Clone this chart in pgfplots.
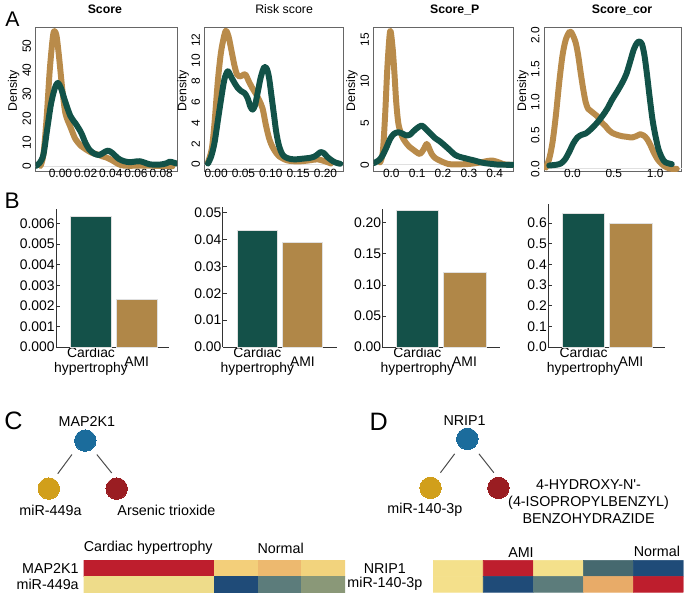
\documentclass[border=0pt]{standalone}
\usepackage{pgfplots}
\pgfplotsset{compat=1.18}
\usepackage{fontspec}
\setmainfont{Liberation Sans}

\definecolor{lgold}{RGB}{185,139,74}
\definecolor{lgreen}{RGB}{18,82,72}
\definecolor{bgold}{RGB}{176,135,72}
\definecolor{bgreen}{RGB}{20,81,73}
\definecolor{hred}{RGB}{190,30,45}
\definecolor{hpale}{RGB}{238,220,138}
\definecolor{hpaleb}{RGB}{244,224,139}
\definecolor{hor1}{RGB}{243,207,122}
\definecolor{hor2}{RGB}{237,185,111}
\definecolor{hor3}{RGB}{242,211,125}
\definecolor{hblue}{RGB}{31,75,120}
\definecolor{hteal}{RGB}{92,124,123}
\definecolor{holive}{RGB}{138,152,120}
\definecolor{hslate}{RGB}{70,105,111}
\definecolor{horange}{RGB}{232,171,104}
\definecolor{nblue}{RGB}{27,108,156}
\definecolor{ngold}{RGB}{209,159,27}
\definecolor{nred}{RGB}{154,29,34}

\newcommand{\fA}{\fontsize{9}{10.5}\selectfont}
\newcommand{\fT}{\fontsize{9.3}{10.5}\selectfont}
\newcommand{\fB}{\fontsize{10.5}{11.3}\selectfont}
\newcommand{\fC}{\fontsize{10.8}{13}\selectfont}

\pgfplotsset{
  /pgf/number format/assume math mode=true,
  fx/.style={/pgf/number format/fixed, /pgf/number format/fixed zerofill, /pgf/number format/precision=#1},
  dens/.style={scale only axis, anchor=north west, height=108.75pt,
    axis line style={draw=black!60, line width=0.6pt},
    tick style={draw=none}, scaled ticks=false,
    ticklabel style={font=\fA},
    xticklabel style={yshift=5pt},
    yticklabel style={rotate=90, anchor=south},
    ylabel={Density},
    every axis y label/.style={at={(axis description cs:-0.155,0.56)}, rotate=90, anchor=center, font=\fT},
    title style={anchor=center, yshift=7.5pt, font=\bfseries\fT}},
  gl/.style={draw=lgold, line width=4.5pt, smooth, line join=round, line cap=round},
  gr/.style={draw=lgreen, line width=4.5pt, smooth, line join=round, line cap=round},
  zl/.style={draw=black!12, line width=0.5pt},
  bars/.style={scale only axis, anchor=south west, ymin=0,
    axis x line*=bottom, axis y line*=left,
    axis line style={draw=black!80, line width=0.7pt},
    xtick={0,1}, xticklabels={{Cardiac\\hypertrophy},{AMI}},
    x tick style={draw=none}, y tick style={draw=black!80, line width=0.6pt},
    tick align=inside, major tick length=3pt, scaled y ticks=false,
    xticklabel style={align=center, anchor=center, yshift=-10.7pt, font=\fB},
    yticklabel style={inner sep=0.8pt, font=\fB}},
  bg/.style={ybar, bar shift=0pt, fill=bgreen, draw=black!12, line width=0.6pt},
  bo/.style={ybar, bar shift=0pt, fill=bgold, draw=black!12, line width=0.6pt},
  heat/.style={scale only axis, anchor=north west, height=24pt,
    ymin=-0.5, ymax=1.5, y dir=reverse, axis line style={draw=none},
    xtick=\empty, ytick={0,1}, major tick length=0pt, tick style={draw=none},
    yticklabel style={font=\fC}},
  cell/.style={matrix plot*, shader=flat corner, mesh/color input=explicit, point meta=explicit symbolic},
  node/.style={only marks, mark=*, mark size=8.1pt, color=#1, mark options={fill=#1, draw=#1, line width=0pt}}
}

\begin{document}
\begin{tikzpicture}
\path (0,0) rectangle (513.75pt,443.25pt);

% ---------- A: densities
\begin{axis}[dens, at={(23.78pt,427.5pt)}, width=106.7pt,
  xmin=-0.01973, xmax=0.0926, ymin=-2.07, ymax=57.85,
  xtick={0,0.02,0.04,0.06,0.08}, ytick={0,10,20,30,40,50},
  xticklabel style={fx=2},
  title={Score}, title style={at={(axis description cs:0.49,1)}}]
\addplot[zl] coordinates {(-1,0) (1,0)};
\addplot[gl] coordinates {(-0.0158,0.3) (-0.0135,5) (-0.011,20) (-0.0085,40) (-0.006,54) (-0.0047,56.3) (-0.003,54) (-0.001,45) (0.0015,32) (0.004,22) (0.0079,16.5) (0.0119,11.4) (0.0165,8.5) (0.0197,7.3) (0.0245,5.8) (0.0289,5.1) (0.0335,4.2) (0.0368,3.7) (0.042,2.3) (0.046,1.0) (0.05,0.4) (0.056,0.3) (0.065,0.4) (0.075,0.3) (0.085,0.2) (0.089,0.1)};
\addplot[gr] coordinates {(-0.0197,0.2) (-0.0165,1.5) (-0.0135,5) (-0.0105,15.6) (-0.0075,26) (-0.0045,32.5) (-0.0021,34.8) (0.0005,32.5) (0.0035,27.5) (0.0079,21) (0.0125,17.5) (0.0165,14) (0.0197,10) (0.023,7) (0.027,5.3) (0.031,4.8) (0.035,6) (0.038,6.6) (0.0415,5.5) (0.046,3.3) (0.0505,2.2) (0.0552,1.8) (0.06,2.1) (0.0631,2.2) (0.067,1.6) (0.071,0.9) (0.0789,0.8) (0.084,1.3) (0.0868,2) (0.09,1.6) (0.0926,1.2)};
\end{axis}

\begin{axis}[dens, at={(151.3pt,427.5pt)}, width=104.5pt,
  xmin=-0.0211, xmax=0.2322, ymin=-0.67, ymax=13.24,
  xtick={0,0.05,0.1,0.15,0.2}, ytick={0,2,4,6,8,10,12},
  xticklabel style={fx=2},
  title={Risk score}, title style={at={(axis description cs:0.574,1)}, font=\fT}]
\addplot[zl] coordinates {(-1,0) (1,0)};
\addplot[gl] coordinates {(-0.015,0.2) (-0.008,1.5) (-0.003,4) (0.003,8) (0.008,10.5) (0.0121,11.8) (0.0175,12.9) (0.0225,12.4) (0.028,11) (0.0333,9.6) (0.038,8.7) (0.0424,8.5) (0.048,8.6) (0.0535,8.7) (0.06,8.0) (0.066,7.4) (0.073,6.8) (0.0788,6.2) (0.085,5.4) (0.091,3.8) (0.097,2.5) (0.103,1.7) (0.11,1.1) (0.115,0.8) (0.13,0.4) (0.15,0.3) (0.17,0.4) (0.185,0.5) (0.2,0.3) (0.21,0.1)};
\addplot[gr] coordinates {(-0.015,0.1) (-0.009,0.8) (-0.003,2.1) (0.003,4.2) (0.009,6.3) (0.015,8.2) (0.0212,9.0) (0.027,8.5) (0.0333,7.9) (0.0395,7.4) (0.0455,7.1) (0.052,6.9) (0.0576,6.4) (0.0625,5.6) (0.0667,5.3) (0.071,5.7) (0.0758,6.9) (0.0815,8.4) (0.0879,9.4) (0.093,9.2) (0.097,8.3) (0.101,6.7) (0.106,4.7) (0.11,3.1) (0.115,1.8) (0.121,1.0) (0.127,0.7) (0.135,0.55) (0.145,0.5) (0.155,0.55) (0.164,0.6) (0.172,0.65) (0.179,0.75) (0.186,1.0) (0.191,1.2) (0.197,1.1) (0.203,0.75) (0.21,0.45) (0.218,0.2) (0.227,0.07)};
\end{axis}

\begin{axis}[dens, at={(278.8pt,427.5pt)}, width=105.75pt,
  xmin=-0.0685, xmax=0.4735, ymin=-0.8, ymax=16.46,
  xtick={0,0.1,0.2,0.3,0.4}, ytick={0,5,10,15},
  xticklabel style={fx=1},
  title={Score\_P}, title style={at={(axis description cs:0.579,1)}}]
\addplot[zl] coordinates {(-1,0) (1,0)};
\addplot[gl] coordinates {(-0.043,0.3) (-0.033,1.5) (-0.024,5.9) (-0.015,11.8) (-0.0045,16) (0.005,14) (0.012,11) (0.019,7.5) (0.027,5) (0.037,3.8) (0.0465,3.1) (0.06,2.5) (0.072,2.1) (0.085,1.8) (0.098,1.5) (0.111,1.3) (0.124,1.8) (0.137,2.5) (0.146,2.0) (0.156,1.3) (0.17,0.8) (0.188,0.5) (0.21,0.2) (0.233,0.05) (0.3,0.1) (0.348,0.3) (0.37,0.45) (0.393,0.5) (0.415,0.3) (0.438,0.05) (0.47,0)};
\addplot[gr] coordinates {(-0.068,0.2) (-0.05,0.5) (-0.036,1.0) (-0.02,2) (-0.0045,3.1) (0.01,3.7) (0.0275,3.9) (0.045,3.7) (0.0596,3.5) (0.072,3.6) (0.085,4.0) (0.1,4.4) (0.117,4.7) (0.13,4.4) (0.143,4.0) (0.156,3.6) (0.169,3.2) (0.188,2.8) (0.207,2.3) (0.225,1.8) (0.246,1.2) (0.265,0.95) (0.284,0.8) (0.303,0.65) (0.323,0.5) (0.34,0.35) (0.361,0.2) (0.39,0.1) (0.413,0.02) (0.47,0)};
\end{axis}

\begin{axis}[dens, at={(407.5pt,427.5pt)}, width=103.8pt,
  xmin=-0.341, xmax=1.32, ymin=-0.04, ymax=2.124,
  xtick={0,0.5,1}, ytick={0,0.5,1,1.5,2},
  xticklabel style={fx=1}, yticklabel style={fx=1},
  title={Score\_cor}, title style={at={(axis description cs:0.566,1)}}]
\addplot[zl] coordinates {(-1,0) (2,0)};
\addplot[gl] coordinates {(-0.32,0.02) (-0.28,0.15) (-0.24,0.4) (-0.2,0.8) (-0.16,1.29) (-0.12,1.7) (-0.08,1.94) (-0.032,2.06) (0.0,2.02) (0.04,1.89) (0.07,1.7) (0.1,1.44) (0.13,1.2) (0.16,1.0) (0.19,0.9) (0.22,0.87) (0.26,0.83) (0.3,0.79) (0.35,0.7) (0.4,0.64) (0.44,0.58) (0.48,0.54) (0.54,0.51) (0.6,0.49) (0.66,0.48) (0.72,0.47) (0.77,0.49) (0.82,0.52) (0.86,0.5) (0.9,0.45) (0.94,0.36) (0.98,0.25) (1.03,0.14) (1.08,0.07) (1.14,0.02) (1.2,0) (1.26,0)};
\addplot[gr] coordinates {(-0.28,0.05) (-0.2,0.06) (-0.14,0.08) (-0.09,0.14) (-0.04,0.25) (0.01,0.38) (0.06,0.47) (0.11,0.51) (0.16,0.53) (0.21,0.58) (0.26,0.64) (0.31,0.71) (0.36,0.79) (0.42,0.9) (0.48,1.04) (0.54,1.16) (0.6,1.29) (0.65,1.42) (0.69,1.58) (0.74,1.79) (0.78,1.89) (0.81,1.91) (0.84,1.87) (0.87,1.7) (0.9,1.42) (0.93,1.1) (0.96,0.8) (0.98,0.64) (1.01,0.45) (1.04,0.29) (1.08,0.17) (1.12,0.1) (1.2,0.07)};
\end{axis}

% ---------- B: bars
\begin{axis}[bars, at={(39.2pt,186.2pt)}, width=85pt, height=104.6pt,
  xmin=-0.765, xmax=1.70, ymax=0.00673,
  ytick={0,0.001,0.002,0.003,0.004,0.005,0.006},
  yticklabel style={fx=3}]
\addplot[bg, bar width=31.2pt] coordinates {(0,0.00633)};
\addplot[bo, bar width=31.2pt] coordinates {(1,0.0023)};
\end{axis}

\begin{axis}[bars, at={(165pt,186.2pt)}, width=86.25pt, height=105.75pt,
  xmin=-0.767, xmax=1.767, ymax=0.05195,
  ytick={0,0.01,0.02,0.03,0.04,0.05},
  yticklabel style={fx=2}]
\addplot[bg, bar width=30.75pt] coordinates {(0,0.0431)};
\addplot[bo, bar width=30.75pt] coordinates {(1,0.039)};
\end{axis}

\begin{axis}[bars, at={(285.5pt,186.2pt)}, width=88.95pt, height=104pt,
  xmin=-0.739, xmax=1.758, ymax=0.2216,
  ytick={0,0.05,0.1,0.15,0.2},
  yticklabel style={fx=2}]
\addplot[bg, bar width=32.25pt] coordinates {(0,0.22)};
\addplot[bo, bar width=32.25pt] coordinates {(1,0.12)};
\end{axis}

\begin{axis}[bars, at={(410.5pt,186.2pt)}, width=88.3pt, height=108.3pt,
  xmin=-0.752, xmax=1.726, ymax=0.694,
  ytick={0,0.1,0.2,0.3,0.4,0.5,0.6},
  yticklabel style={fx=1}]
\addplot[bg, bar width=31.9pt] coordinates {(0,0.646)};
\addplot[bo, bar width=31.9pt] coordinates {(1,0.598)};
\end{axis}

% ---------- C, D: heatmaps
\begin{axis}[heat, at={(60pt,25.3pt)}, width=197.25pt,
  xmin=-0.5, xmax=5.5, yticklabels={MAP2K1,miR-449a},
  yticklabel style={inner sep=1pt, xshift=-2.5pt}]
\addplot[cell, mesh/cols=6] table[meta=c] {
x y c
0 0 color=hred
1 0 color=hred
2 0 color=hred
3 0 color=hor1
4 0 color=hor2
5 0 color=hor3
0 1 color=hpale
1 1 color=hpale
2 1 color=hpale
3 1 color=hblue
4 1 color=hteal
5 1 color=holive
};
\end{axis}

\begin{axis}[heat, at={(323.8pt,25.3pt)}, width=188.7pt,
  xmin=-0.5, xmax=4.5, yticklabels={NRIP1,miR-140-3p},
  yticklabel style={anchor=center, xshift=-36.5pt}]
\addplot[cell, mesh/cols=5] table[meta=c] {
x y c
0 0 color=hpaleb
1 0 color=hred
2 0 color=hpaleb
3 0 color=hslate
4 0 color=hblue
0 1 color=hpaleb
1 1 color=hblue
2 1 color=hteal
3 1 color=horange
4 1 color=hred
};
\end{axis}

% ---------- overlay: panel letters, networks, group labels
\begin{axis}[scale only axis, at={(0pt,0pt)}, anchor=south west,
  width=513.75pt, height=443.25pt, xmin=0, xmax=685, ymin=0, ymax=591,
  y dir=reverse, hide axis, clip=false]
\addplot[black!70, line width=0.75pt] coordinates {(68.3,450.7) (54,470)};
\addplot[black!70, line width=0.75pt] coordinates {(93.3,450.7) (108.3,469.3)};
\addplot[black!70, line width=0.75pt] coordinates {(453.3,450) (439,469)};
\addplot[black!70, line width=0.75pt] coordinates {(477.7,450) (492.7,469)};
\addplot[node=nblue] coordinates {(81.7,436.7) (466,435)};
\addplot[node=ngold] coordinates {(45,485) (429,484.3)};
\addplot[node=nred] coordinates {(113.3,485) (497.3,484.3)};
\node[font=\fontsize{16}{16}\selectfont] at (axis cs:8.5,12.5) {A};
\node[font=\fontsize{17}{17}\selectfont] at (axis cs:8,195) {B};
\node[font=\fontsize{19}{19}\selectfont] at (axis cs:9.5,417) {C};
\node[font=\fontsize{19}{19}\selectfont] at (axis cs:377,418) {D};
\node[font=\fC] at (axis cs:83.3,417.7) {MAP2K1};
\node[font=\fC] at (axis cs:46.7,506.7) {miR-449a};
\node[font=\fC] at (axis cs:163.3,506.7) {Arsenic trioxide};
\node[font=\fC] at (axis cs:463.3,416.7) {NRIP1};
\node[font=\fC] at (axis cs:423.3,506.7) {miR-140-3p};
\node[font=\fC, align=center] at (axis cs:588,498) {4-HYDROXY-N\textquotesingle-\\(4-ISOPROPYLBENZYL)\\BENZOHYDRAZIDE};
\node[font=\fC] at (axis cs:145,545) {Cardiac hypertrophy};
\node[font=\fC] at (axis cs:278.3,545) {Normal};
\node[font=\fC] at (axis cs:520,549.3) {AMI};
\node[font=\fC] at (axis cs:656.7,548.3) {Normal};
\end{axis}
\end{tikzpicture}
\end{document}
